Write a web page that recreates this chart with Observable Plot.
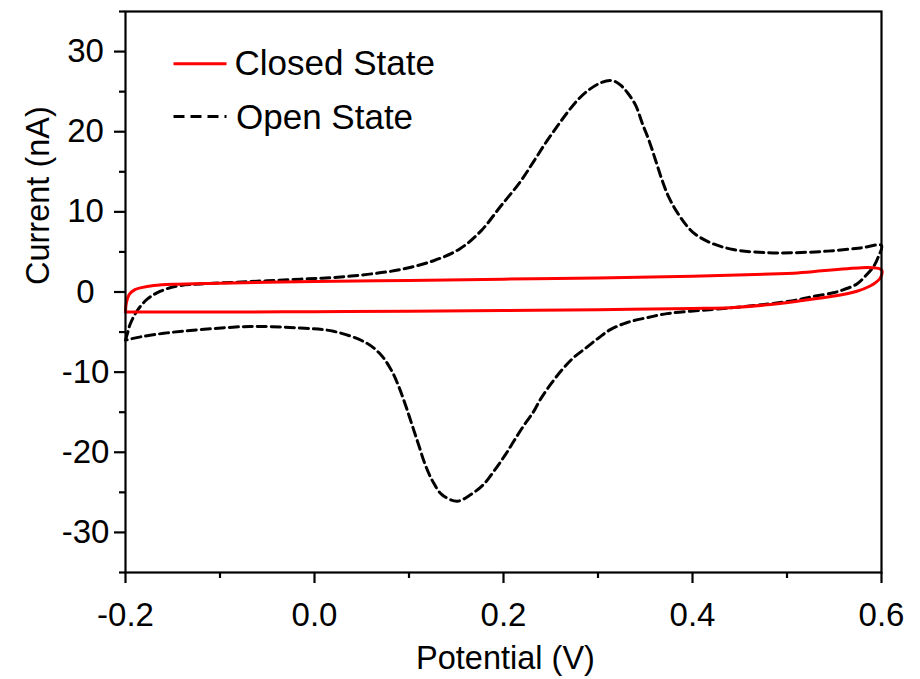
<!DOCTYPE html>
<html><head><meta charset="utf-8">
<script src="https://cdn.jsdelivr.net/npm/d3@7"></script>
<script src="https://cdn.jsdelivr.net/npm/@observablehq/plot@0.6"></script>
<style>body{margin:0;background:#fff}#chart{width:920px;height:679px}</style>
</head><body><div id="chart"></div>
<script>
// ---- Data ----
const seriesNames = ["Closed State", "Open State"];
const xLabel = "Potential (V)";
const yLabel = "Current (nA)";

const closedV = [-0.200,-0.199,-0.196,-0.190,-0.183,-0.170,-0.150,-0.100,0.000,0.100,0.200,0.300,0.400,0.500,0.600,
                 0.599,0.594,0.588,0.574,0.550,0.514,0.479,0.440,0.400,0.300,0.200,0.100,0.000,-0.100,-0.200];
const closedI = [-2.5,-1.3,-0.3,0.3,0.55,0.8,0.96,1.1,1.3,1.45,1.6,1.75,1.95,2.3,2.75,
                 1.8,1.2,0.75,0.1,-0.5,-1.1,-1.6,-1.95,-2.05,-2.2,-2.3,-2.4,-2.45,-2.5,-2.5];

const openV = [-0.200,-0.198,-0.195,-0.188,-0.177,-0.163,-0.145,-0.121,-0.068,-0.015,0.020,0.056,0.091,0.126,0.154,0.176,0.197,0.218,0.232,0.244,0.257,0.267,0.278,0.289,0.301,0.313,0.322,0.331,0.340,0.347,0.354,0.361,0.368,0.375,0.384,0.394,0.403,0.420,0.443,0.479,0.507,0.543,0.578,0.600,
               0.597,0.592,0.583,0.574,0.560,0.549,0.530,0.510,0.480,0.443,0.430,0.398,0.373,0.352,0.331,0.313,0.301,0.287,0.274,0.262,0.250,0.239,0.232,0.221,0.211,0.202,0.192,0.179,0.165,0.151,0.135,0.125,0.117,0.110,0.103,0.096,0.089,0.082,0.070,0.054,0.020,-0.015,-0.068,-0.121,-0.156,-0.184,-0.200];
const openI = [-6.0,-5.2,-4.0,-2.4,-0.9,0.1,0.75,1.0,1.3,1.6,1.8,2.2,2.8,3.9,5.4,7.6,10.7,13.8,16.3,18.5,20.7,22.3,23.9,25.1,26.0,26.4,26.0,24.9,23.25,21.0,18.9,16.4,13.9,11.8,9.9,8.25,7.2,6.1,5.3,4.9,4.9,5.1,5.5,5.8,
               4.5,3.25,2.0,1.0,0.3,-0.1,-0.5,-1.0,-1.5,-1.95,-2.1,-2.4,-2.7,-3.2,-3.8,-4.7,-5.7,-7.0,-8.2,-9.7,-11.5,-13.4,-14.9,-16.75,-18.6,-20.3,-22.0,-24.0,-25.3,-26.1,-25.3,-23.6,-21.5,-19.0,-16.5,-14.0,-11.75,-9.9,-7.8,-6.3,-4.9,-4.5,-4.3,-4.7,-5.1,-5.6,-6.0];

const xMajorTicks = [-0.2, 0, 0.2, 0.4, 0.6];
const xTickLabels = ["-0.2", "0.0", "0.2", "0.4", "0.6"];
const xMinorTicks = [-0.1, 0.1, 0.3, 0.5];
const yMajorTicks = [-30, -20, -10, 0, 10, 20, 30];
const yTickLabels = ["-30", "-20", "-10", "0", "10", "20", "30"];
const yMinorTicks = [-35, -25, -15, -5, 5, 15, 25, 35];

// ---- Build tables ----
const closedData = closedV.map((v, k) => ({v, i: closedI[k]}));
const openData = openV.map((v, k) => ({v, i: openI[k]}));

// horizontal line symbol for legend swatches
const hline = {draw(ctx, size) { const r = Math.sqrt(size / Math.PI); ctx.moveTo(-r, 0); ctx.lineTo(r, 0); }};

const font = "'Liberation Sans', Arial, Helvetica, sans-serif";

const chart = Plot.plot({
  width: 920, height: 679,
  marginLeft: 125, marginRight: 39, marginTop: 11, marginBottom: 107,
  style: {fontFamily: font, background: "#fff", color: "#000", overflow: "visible"},
  x: {domain: [-0.2, 0.6]},
  y: {domain: [-35, 35]},
  marks: [
    Plot.line(openData, {x: "v", y: "i", stroke: "#000", strokeWidth: 3, strokeDasharray: "9,5", curve: "catmull-rom"}),
    Plot.line(closedData, {x: "v", y: "i", stroke: "#ff0000", strokeWidth: 3, curve: "catmull-rom"}),
    Plot.frame({stroke: "#000", strokeWidth: 2.2}),
    Plot.axisX(xMajorTicks, {tickSize: 11, tickPadding: 19, strokeWidth: 2.2, fontSize: 33,
      tickFormat: d => xTickLabels[xMajorTicks.indexOf(d)], label: null}),
    Plot.axisX(xMinorTicks, {tickSize: 6, strokeWidth: 2.2, tickFormat: () => "", label: null}),
    Plot.axisY(yMajorTicks, {tickSize: 11, tickPadding: 29, textAnchor: "middle", strokeWidth: 2.2, fontSize: 33,
      tickFormat: d => yTickLabels[yMajorTicks.indexOf(d)], label: null}),
    Plot.axisY(yMinorTicks, {tickSize: 6, strokeWidth: 2.2, tickFormat: () => "", label: null}),
    Plot.text([xLabel], {text: d => d, frameAnchor: "bottom", dx: 2, dy: 73, lineAnchor: "top", fontSize: 32.5}),
    Plot.text([yLabel], {text: d => d, frameAnchor: "left", rotate: -90, dx: -77, dy: -7, lineAnchor: "bottom", fontSize: 32.5}),
    // legend
    Plot.dot([seriesNames[0]], {frameAnchor: "top-left", dx: 74.5, dy: 52.3, r: 26.5, symbol: hline, stroke: "#ff0000", strokeWidth: 3, fill: "none"}),
    Plot.dot([seriesNames[1]], {frameAnchor: "top-left", dx: 74.5, dy: 105, r: 26.5, symbol: hline, stroke: "#000", strokeWidth: 3, strokeDasharray: "11,6", fill: "none"}),
    Plot.text([seriesNames[0]], {text: d => d, frameAnchor: "top-left", dx: 109, dy: 52, textAnchor: "start", lineAnchor: "middle", fontSize: 35}),
    Plot.text([seriesNames[1]], {text: d => d, frameAnchor: "top-left", dx: 110.5, dy: 106, textAnchor: "start", lineAnchor: "middle", fontSize: 35})
  ]
});
document.getElementById("chart").appendChild(chart);
</script>
</body></html>
